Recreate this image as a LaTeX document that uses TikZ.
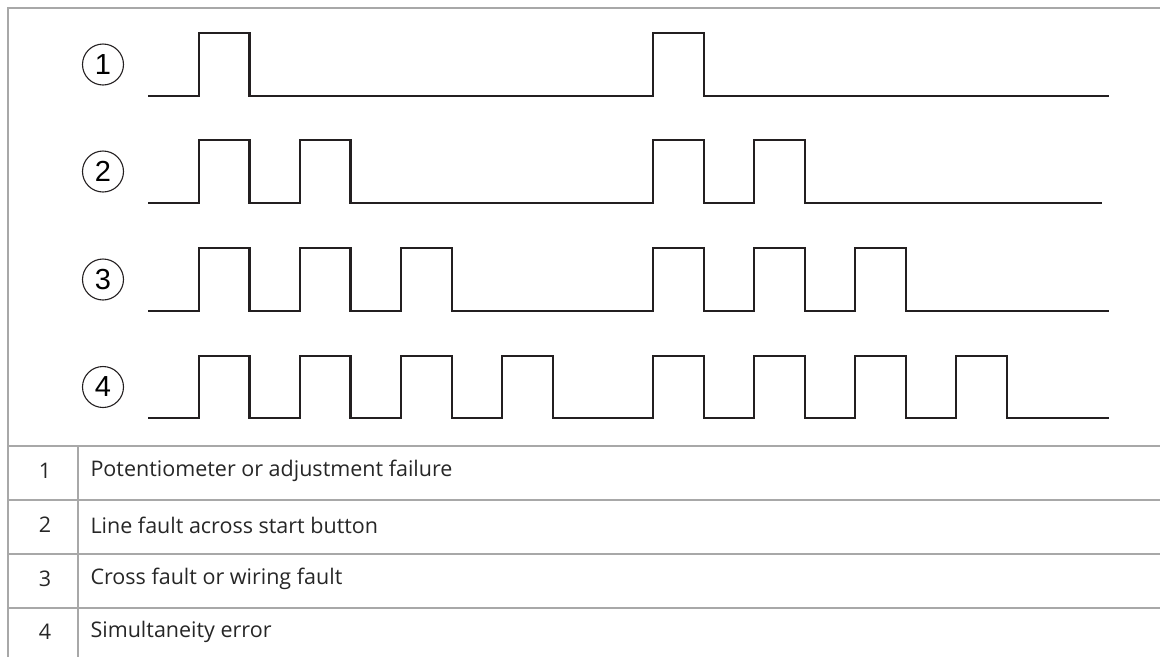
\documentclass[tikz,border=0pt]{standalone}
\usepackage{fontspec}
\setmainfont{Open Sans}
\newfontfamily\circfont{Liberation Sans}
\definecolor{frame}{HTML}{A8A8A8}
\definecolor{wave}{HTML}{231F20}
\definecolor{txt}{HTML}{262626}
\tikzset{
  framel/.style={draw=frame, line width=2pt},
  wavel/.style={draw=wave, line width=2.2pt, line join=miter},
  numcirc/.style={circle, draw=wave, line width=1.1pt, minimum size=41pt, inner sep=0pt, font=\circfont\fontsize{29}{29}\selectfont},
  rownum/.style={text=txt, font=\fontsize{21.5}{21.5}\selectfont, anchor=center},
  rowtxt/.style={text=txt, font=\fontsize{21.5}{21.5}\selectfont, anchor=west}
}
\begin{document}
\begin{tikzpicture}[x=1pt,y=-1pt]
\useasboundingbox (0,0) rectangle (1160,657);
% frame
\draw[framel] (8,657) -- (8,8) -- (1160,8);
\draw[framel] (8,446) -- (1160,446);
\draw[framel] (8,500) -- (1160,500);
\draw[framel] (8,554) -- (1160,554);
\draw[framel] (8,608) -- (1160,608);
\draw[framel] (78,446) -- (78,657);
% circles
\node[numcirc] (c1) at (103,64.5) {1};
\node[numcirc] (c2) at (103,171.5) {2};
\node[numcirc] (c3) at (103,279.5) {3};
\node[numcirc] (c4) at (103,387) {4};
% waveforms
\draw[wavel] (148,96) \foreach \a/\b in {199/249.5,653/704} { -- (\a,96) -- (\a,33) -- (\b,33) -- (\b,96) } -- (1109,96);
\draw[wavel] (148,203) \foreach \a/\b in {199/249.5,300/350.5,653/704,754/805} { -- (\a,203) -- (\a,140) -- (\b,140) -- (\b,203) } -- (1102,203);
\draw[wavel] (148,311) \foreach \a/\b in {199/249.5,300/350.5,401/452,653/704,754/805,855/906} { -- (\a,311) -- (\a,248) -- (\b,248) -- (\b,311) } -- (1109,311);
\draw[wavel] (148,418) \foreach \a/\b in {199/249.5,300/350.5,401/452,502/553,653/704,754/805,855/906,956/1007} { -- (\a,418) -- (\a,356) -- (\b,356) -- (\b,418) } -- (1109,418);
% table
\node[rownum] (n1) at (45,471) {1};
\node[rowtxt] (t1) at (87,471) {Potentiometer or adjustment failure};
\node[rownum] (n2) at (45,525) {2};
\node[rowtxt] (t2) at (87,525) {Line fault across start button};
\node[rownum] (n3) at (45,579) {3};
\node[rowtxt] (t3) at (87,579) {Cross fault or wiring fault};
\node[rownum] (n4) at (45,632) {4};
\node[rowtxt] (t4) at (87,632) {Simultaneity error};
\end{tikzpicture}
\end{document}
